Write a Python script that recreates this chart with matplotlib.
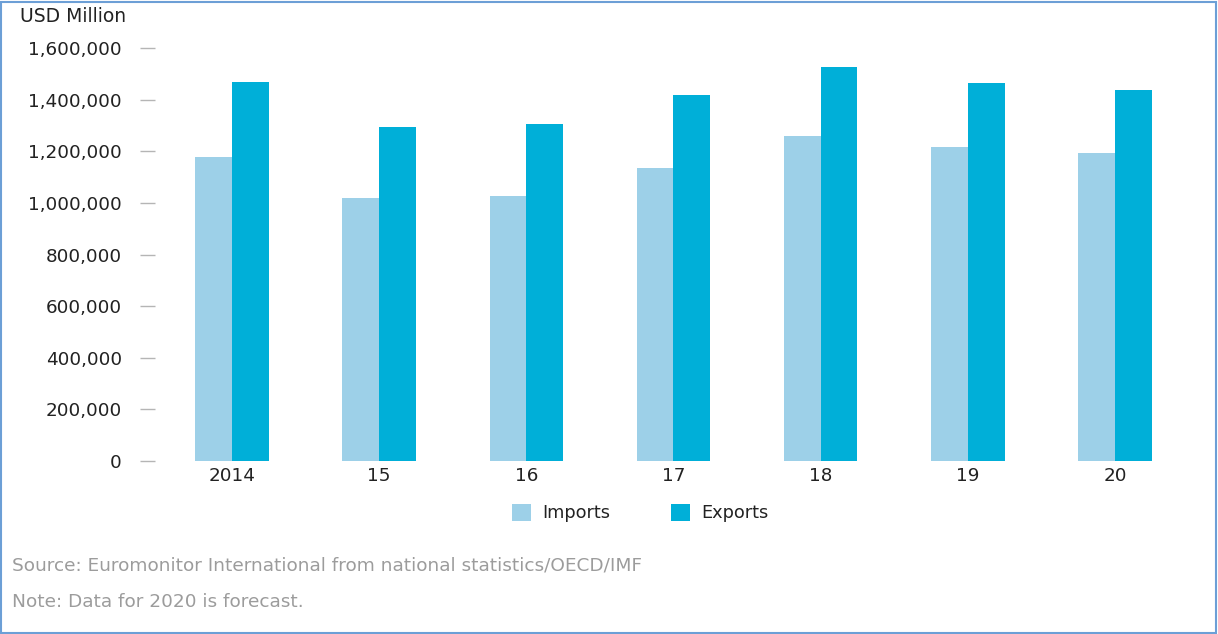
import matplotlib
matplotlib.use("Agg")
from matplotlib import pyplot as plt
from matplotlib.patches import Patch, Rectangle
from matplotlib.ticker import FuncFormatter

years = ["2014", "15", "16", "17", "18", "19", "20"]
imports = [1178000, 1019000, 1027000, 1135000, 1260000, 1217000, 1194000]
exports = [1469000, 1294000, 1306000, 1418000, 1527000, 1465000, 1438000]
y_ticks = [0, 200000, 400000, 600000, 800000, 1000000, 1200000, 1400000, 1600000]

IMPORT_COLOR = "#9dd0e8"
EXPORT_COLOR = "#00afd8"
TEXT_COLOR = "#222222"
NOTE_COLOR = "#9c9c9c"

W, H = 1218, 634
fig = plt.figure(figsize=(W / 100, H / 100), dpi=100)
plt.rcParams["font.family"] = ["DejaVu Sans"]

# axes placed in pixel terms: left 155, right 1190, zero line at y=461, top tick at y=48
ax = fig.add_axes([155 / W, (H - 461) / H, (1190 - 155) / W, (461 - 48) / H])

width = 0.25
x = list(range(len(years)))
ax.bar([i - width / 2 for i in x], imports, width=width, color=IMPORT_COLOR, label="Imports")
ax.bar([i + width / 2 for i in x], exports, width=width, color=EXPORT_COLOR, label="Exports")

ax.set_xlim(-0.523, len(years) - 1 + 0.51)
ax.set_ylim(0, 1600000)
ax.set_yticks(y_ticks)
ax.yaxis.set_major_formatter(FuncFormatter(lambda v, p: f"{int(v):,}"))
ax.set_xticks(x)
ax.set_xticklabels(years)

for s in ax.spines.values():
    s.set_visible(False)
ax.tick_params(axis="y", length=10.8, width=1, color="#b5b5b5", pad=13,
               labelsize=13.2, labelcolor=TEXT_COLOR)
ax.tick_params(axis="x", length=0, pad=4, labelsize=13.2, labelcolor=TEXT_COLOR)
ax.set_facecolor("none")

fig.text(20 / W, 1 - 16 / H, "USD Million", fontsize=13.5, color=TEXT_COLOR,
         ha="left", va="center")

handles = [Patch(facecolor=IMPORT_COLOR, label="Imports"),
           Patch(facecolor=EXPORT_COLOR, label="Exports")]
fig.legend(handles=handles, loc="center", bbox_to_anchor=(640 / W, 1 - 513 / H),
           ncol=2, frameon=False, fontsize=12.8, handlelength=1.1, handleheight=1.1,
           handletextpad=0.6, columnspacing=3.4, labelcolor=TEXT_COLOR)

fig.text(12 / W, 1 - 566 / H, "Source: Euromonitor International from national statistics/OECD/IMF",
         fontsize=13.3, color=NOTE_COLOR, ha="left", va="center")
fig.text(12 / W, 1 - 602 / H, "Note: Data for 2020 is forecast.",
         fontsize=13.3, color=NOTE_COLOR, ha="left", va="center")

# thin blue frame around the whole figure
fig.patches.append(Rectangle((1 / W, 1 / H), (W - 3) / W, (H - 3) / H, transform=fig.transFigure,
                             fill=False, edgecolor="#6c9fd6", linewidth=1.5))

fig.savefig("out.png", dpi=100, facecolor="white")
